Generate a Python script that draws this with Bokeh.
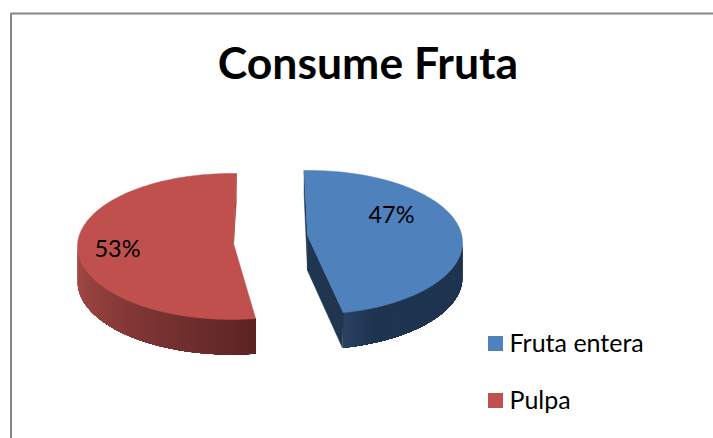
from math import sin, cos, radians
from bokeh.plotting import figure
from bokeh.models import Range1d
from bokeh.core.properties import value
from bokeh.embed import file_html
from bokeh.resources import INLINE

title = "Consume Fruta"
categories = ["Fruta entera", "Pulpa"]
shares = [47, 53]
labels = ["47%", "53%"]
colors = ["#4F81BD", "#C0504D"]

W, H = 713, 438
p = figure(width=W, height=H, output_backend="svg", toolbar_location=None,
           x_range=Range1d(0, W), y_range=Range1d(H, 0),
           min_border=0, outline_line_color=None, background_fill_color="white")
p.axis.visible = False
p.grid.visible = False

DEPTH = 35
def rim(g, t):
    return g["ex"] + g["a"] * sin(radians(t)), g["ey"] - g["b"] * cos(radians(t))

geo = [dict(ex=309, ey=242, a=153, b=72, start=-2, apex=(307, 235)),
       dict(ex=231, ey=246, a=154, b=73, start=171, apex=(233, 243))]

def lerp(c1, c2, f):
    return "#%02x%02x%02x" % tuple(int(round(x + (y - x) * f)) for x, y in zip(c1, c2))

def side(g, t0, t1, stops, n=90):
    # one continuous silhouette per step, painted back to front so no seams show
    for i in range(n):
        f = i / (n - 1)
        a0 = t0 + (t1 - t0) * i / n
        ts = [a0 + (t1 - a0) * j / 40 for j in range(41)]
        top = [rim(g, t) for t in ts]
        xs = [q[0] for q in top] + [q[0] for q in reversed(top)]
        ys = [q[1] for q in top] + [q[1] + DEPTH for q in reversed(top)]
        for (f0, c0), (f1, c1) in zip(stops, stops[1:]):
            if f0 <= f <= f1:
                col = lerp(c0, c1, (f - f0) / (f1 - f0))
                break
        p.patch(xs, ys, fill_color=col, line_color=None)

sweeps = [s / sum(shares) * 360 for s in shares]

# blue slice
g = geo[0]
t0, t1 = g["start"], g["start"] + sweeps[0]
ax, ay = g["apex"]
sx, sy = rim(g, t0)
ex_, ey_ = rim(g, t1)
side(g, 90, t1, [(0, (31, 52, 80)), (0.85, (31, 52, 80)), (1, (42, 65, 98))])
p.patch([ax, ex_, ex_ - 1, ax], [ay, ey_, ey_ + DEPTH, ay + DEPTH], fill_color="#1F3550", line_color="#1F3550", line_width=0.5)
p.patch([sx, ax, ax, sx], [sy, ay, ay + DEPTH, sy + 25], fill_color="#1F3550", line_color="#1F3550", line_width=0.5)
ts = [t0 + (t1 - t0) * i / 120 for i in range(121)]
pts = [rim(g, t) for t in ts]
p.patch([ax] + [q[0] for q in pts], [ay] + [q[1] for q in pts], fill_color=colors[0], line_color=colors[0], line_width=0.5)

# red slice
g = geo[1]
t0, t1 = g["start"], g["start"] + sweeps[1]
ax, ay = g["apex"]
sx, sy = rim(g, t1)
side(g, 270, t0, [(0, (168, 75, 72)), (1, (92, 36, 36))])
p.patch([sx, sx, ax], [sy, sy + 28, ay], fill_color="#96403E", line_color="#96403E", line_width=0.5)
ts = [t0 + (t1 - t0) * i / 120 for i in range(121)]
pts = [rim(g, t) for t in ts]
p.patch([ax] + [q[0] for q in pts], [ay] + [q[1] for q in pts], fill_color=colors[1], line_color=colors[1], line_width=0.5)

font = value("Lato")
p.text([367.5], [61], text=[title], text_font=font, text_font_style="bold", text_font_size="44.5px",
       text_align="center", text_baseline="middle", text_color="black")
p.text([391, 117], [213, 247], text=labels, text_font=font, text_font_size="23.5px",
       text_align="center", text_baseline="middle", text_color="black")
p.rect([495, 495], [343, 400], width=15, height=15, fill_color=colors, line_color=None)
p.text([509, 509], [341, 398], text=categories, text_font=font, text_font_size="25px",
       text_align="left", text_baseline="middle", text_color="black")

# chart frame
p.line([10.5, 10.5, W + 1], [H + 1, 13, 13], line_color="#868686", line_width=2)

open("out.html", "w").write(file_html(p, INLINE))
